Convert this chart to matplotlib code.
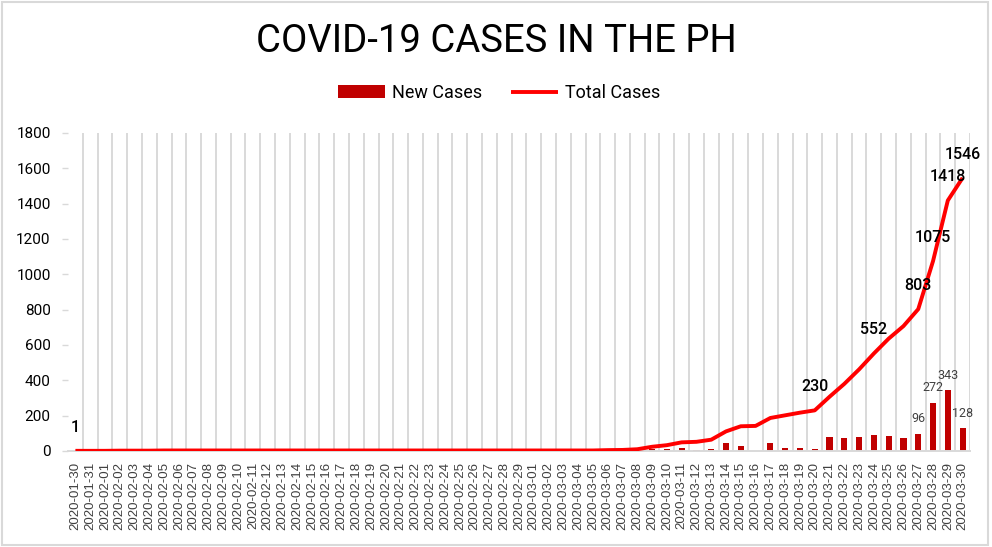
import numpy as np
import pandas as pd
import matplotlib
matplotlib.use("Agg")
import matplotlib.pyplot as plt
from matplotlib.patches import Rectangle

# Daily categories, 2020-01-30 .. 2020-03-30
dates = pd.date_range("2020-01-30", "2020-03-30").strftime("%Y-%m-%d").tolist()

# New confirmed cases per day
new_cases = ([1, 0, 0, 1, 0, 0, 1] + [0] * 29 +
             [2, 1, 4, 14, 9, 16, 3, 12, 47, 29, 2, 45, 15, 15, 13,
              77, 73, 82, 90, 84, 71, 96, 272, 343, 128])

# Cumulative cases
total_cases = ([1, 1, 1, 2, 2, 2] + [3] * 30 +
               [5, 6, 10, 24, 33, 49, 52, 64, 111, 140, 142, 187, 202, 217, 230,
                307, 380, 462, 552, 636, 707, 803, 1075, 1418, 1546])

# which points carry a value label
total_label_dates = ["2020-01-30", "2020-03-20", "2020-03-24", "2020-03-27",
                     "2020-03-28", "2020-03-29", "2020-03-30"]
new_label_dates = ["2020-03-27", "2020-03-28", "2020-03-29", "2020-03-30"]

BAR_COLOR = "#C00000"
LINE_COLOR = "#FF0000"
GRID_COLOR = "#D9D9D9"


def main():
    plt.rcParams["font.family"] = ["Roboto", "DejaVu Sans"]

    fig = plt.figure(figsize=(9.92, 5.47), dpi=100)
    ax = fig.add_axes([68 / 992, 1 - 451 / 547, (970 - 68) / 992, (451 - 133) / 547])

    x = np.arange(len(dates))

    bars = ax.bar(x, new_cases, width=0.42, color=BAR_COLOR, label="New Cases", zorder=2)
    line, = ax.plot(x, total_cases, color=LINE_COLOR, linewidth=2.8, label="Total Cases",
                    solid_capstyle="butt", zorder=3)

    # value labels
    for d in total_label_dates:
        i = dates.index(d)
        ax.annotate(str(total_cases[i]), (x[i], total_cases[i]), xytext=(0, 17),
                    textcoords="offset points", ha="center", va="center",
                    fontsize=11.5, fontweight="medium", color="black", zorder=4)
    for d in new_label_dates:
        i = dates.index(d)
        ax.annotate(str(new_cases[i]), (x[i], new_cases[i]), xytext=(0, 11),
                    textcoords="offset points", ha="center", va="center",
                    fontsize=9, color="#404040", zorder=4)

    # vertical gridlines between categories
    for b in np.arange(len(dates)) + 0.5:
        ax.axvline(b, color=GRID_COLOR, linewidth=1.4, zorder=1)

    ax.set_xlim(-0.5, len(dates) - 0.5)
    ax.set_ylim(0, 1800)
    ax.set_yticks(np.arange(0, 1801, 200))
    ax.set_xticks(x)
    ax.set_xticklabels(dates, rotation=90, fontsize=9.5, family="Liberation Sans",
                       color="#404040")
    ax.tick_params(axis="x", length=0, pad=8)
    ax.tick_params(axis="y", length=4.5, width=1, color=GRID_COLOR, pad=8,
                   labelsize=11)

    for s in ["top", "right", "left"]:
        ax.spines[s].set_visible(False)
    ax.spines["bottom"].set_color(GRID_COLOR)
    ax.spines["bottom"].set_linewidth(1.4)

    fig.text(0.5, 1 - 42 / 547, "COVID-19 CASES IN THE PH", ha="center", va="center",
             fontsize=27.5, color="black")

    fig.legend(handles=[bars, line], loc="center", bbox_to_anchor=(0.503, 1 - 93 / 547),
               ncol=2, frameon=False, fontsize=13, handlelength=2.6, handletextpad=0.4,
               columnspacing=1.6)

    # light grey frame around the chart
    fig.patches.append(Rectangle((0.002, 0.004), 0.994, 0.992, transform=fig.transFigure,
                                 fill=False, edgecolor="#D9D9D9", linewidth=1.5))

    fig.savefig("out.png", dpi=100)


if __name__ == "__main__":
    main()
